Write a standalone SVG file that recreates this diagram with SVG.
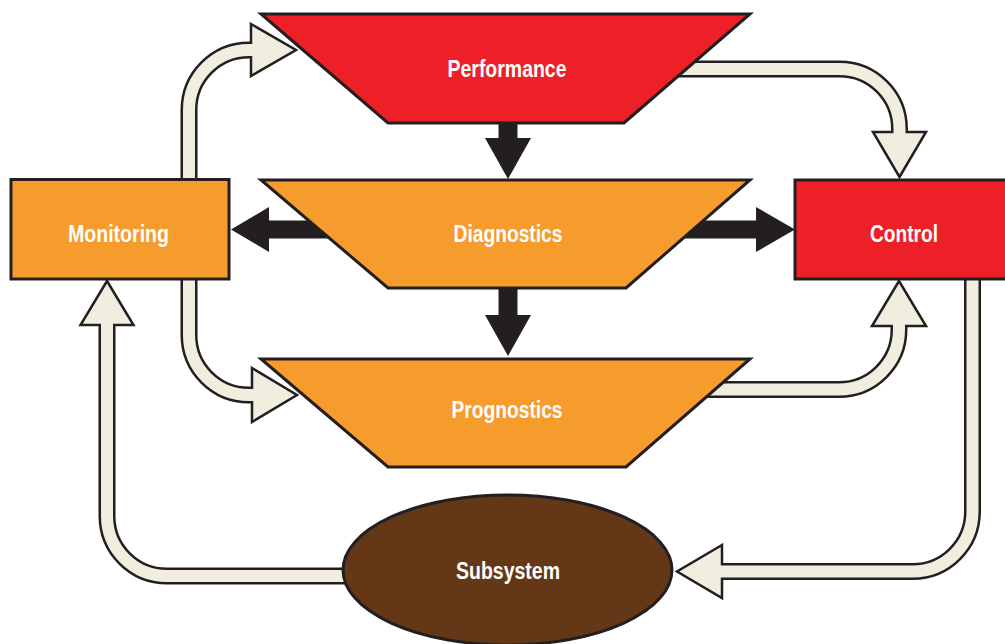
<svg xmlns="http://www.w3.org/2000/svg" width="1005" height="644" viewBox="0 0 1005 644">
  <style>
    .node { stroke: #231F20; stroke-width: 3; stroke-linejoin: miter; }
    .red { fill: #ED2027; }
    .orange { fill: #F69C2D; }
    .brown { fill: #643816; }
    .label { font-family: "Liberation Sans", Arial, sans-serif; font-weight: bold; font-size: 23px; fill: #FFFFFF; text-anchor: middle; }
    .flow-edge { fill: none; stroke: #231F20; stroke-width: 17; }
    .flow-core { fill: none; stroke: #F1EEDF; stroke-width: 12; }
    .flow-head { fill: #F1EEDF; stroke: #231F20; stroke-width: 2.5; stroke-linejoin: miter; }
    .solid { fill: #231F20; }
  </style>

  <rect width="1005" height="644" fill="#FFFFFF"/>

  <g id="connectors">
    <!-- Monitoring to Performance -->
    <g id="monitoring-performance">
      <path class="flow-edge" d="M189,200 V110 A60,60 0 0 1 249,50 H251"/>
      <polygon class="flow-head" points="251,24 296,50 251,76"/>
      <path class="flow-core" d="M189,200 V110 A60,60 0 0 1 249,50 H254"/>
    </g>
    <!-- Performance to Control -->
    <g id="performance-control">
      <path class="flow-edge" d="M660,69 H839.5 A60,60 0 0 1 899.5,129 V132"/>
      <polygon class="flow-head" points="873,132 926,132 899.5,177"/>
      <path class="flow-core" d="M660,69 H839.5 A60,60 0 0 1 899.5,129 V135"/>
    </g>
    <!-- Monitoring to Prognostics -->
    <g id="monitoring-prognostics">
      <path class="flow-edge" d="M189,260 V335 A60,60 0 0 0 249,395 H252"/>
      <polygon class="flow-head" points="252,368 297,395 252,422"/>
      <path class="flow-core" d="M189,260 V335 A60,60 0 0 0 249,395 H255"/>
    </g>
    <!-- Prognostics to Control -->
    <g id="prognostics-control">
      <path class="flow-edge" d="M680,389.5 H839 A60,60 0 0 0 899,329.5 V326"/>
      <polygon class="flow-head" points="872,326 926,326 899,281"/>
      <path class="flow-core" d="M680,389.5 H839 A60,60 0 0 0 899,329.5 V323"/>
    </g>
    <!-- Control to Subsystem -->
    <g id="control-subsystem">
      <path class="flow-edge" d="M972.5,260 V511.5 A60,60 0 0 1 912.5,571.5 H722"/>
      <polygon class="flow-head" points="722,545 677,571.5 722,598"/>
      <path class="flow-core" d="M972.5,260 V511.5 A60,60 0 0 1 912.5,571.5 H719"/>
    </g>
    <!-- Subsystem to Monitoring -->
    <g id="subsystem-monitoring">
      <path class="flow-edge" d="M360,576 H167 A60,60 0 0 1 107,516 V325"/>
      <polygon class="flow-head" points="80.5,325 133.5,325 107,281"/>
      <path class="flow-core" d="M360,576 H167 A60,60 0 0 1 107,516 V322"/>
    </g>

    <!-- Solid arrows -->
    <polygon id="performance-diagnostics" class="solid" points="498.5,115 517.5,115 517.5,138 531,138 508,179 485,138 498.5,138"/>
    <polygon id="diagnostics-prognostics" class="solid" points="498.5,282 517.5,282 517.5,315 531,315 508,356 485,315 498.5,315"/>
    <polygon id="diagnostics-monitoring" class="solid" points="345,220.5 269,220.5 269,207 231,229.5 269,252 269,238.5 345,238.5"/>
    <polygon id="diagnostics-control" class="solid" points="680,220.5 756,220.5 756,207 795,229.5 756,252 756,238.5 680,238.5"/>
  </g>

  <g id="performance">
    <polygon class="node red" points="261,14 750,14 624,123 388,123"/>
    <text class="label" x="507" y="77" textLength="119" lengthAdjust="spacingAndGlyphs">Performance</text>
  </g>

  <g id="diagnostics">
    <polygon class="node orange" points="261,180 750,180 626,288 388,288"/>
    <text class="label" x="508" y="242" textLength="109" lengthAdjust="spacingAndGlyphs">Diagnostics</text>
  </g>

  <g id="prognostics">
    <polygon class="node orange" points="261,359 750,359 626,467 388,467"/>
    <text class="label" x="507" y="418" textLength="111" lengthAdjust="spacingAndGlyphs">Prognostics</text>
  </g>

  <g id="monitoring">
    <rect class="node orange" x="11" y="179.5" width="218" height="99.5"/>
    <text class="label" x="118.5" y="242" textLength="101" lengthAdjust="spacingAndGlyphs">Monitoring</text>
  </g>

  <g id="control">
    <rect class="node red" x="795" y="180" width="215" height="99"/>
    <text class="label" x="904" y="242" textLength="68" lengthAdjust="spacingAndGlyphs">Control</text>
  </g>

  <g id="subsystem">
    <ellipse class="node brown" cx="507.5" cy="570" rx="164.5" ry="75"/>
    <text class="label" x="508" y="579" textLength="104" lengthAdjust="spacingAndGlyphs">Subsystem</text>
  </g>
</svg>
